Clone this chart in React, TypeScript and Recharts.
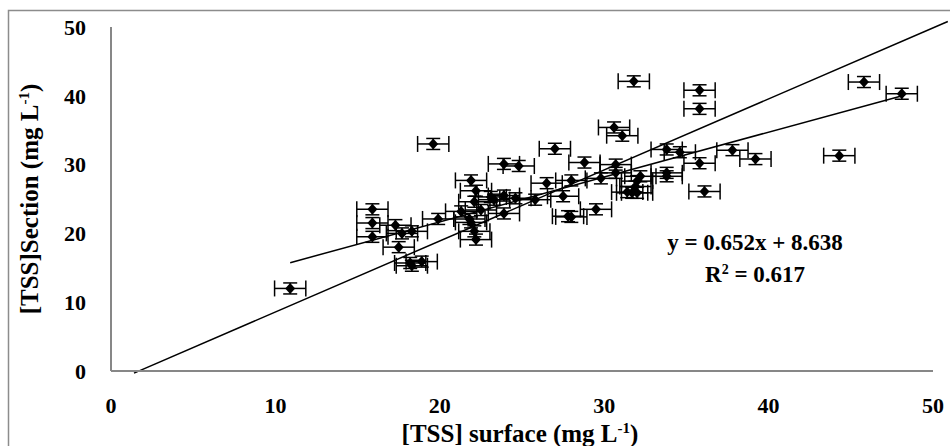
import React from 'react';
import {
  ScatterChart,
  Scatter,
  XAxis,
  YAxis,
  ErrorBar,
  ReferenceLine,
  Customized,
} from 'recharts';

// [TSS] surface (mg L-1)
const surfaceTSS = [
  10.9, 15.9, 15.9, 15.9, 17.3, 17.5, 17.7, 18.2, 18.3, 18.3, 18.9, 19.6, 19.9,
  21.3, 21.8, 21.9, 21.9, 22.1, 22.1, 22.2, 22.2, 22.5, 23.1, 23.3, 23.9, 23.9,
  23.9, 24.6, 24.8, 25.8, 26.5, 27.0, 27.5, 27.8, 28.0, 28.0, 28.8, 29.5, 29.8,
  30.6, 30.7, 30.7, 31.1, 31.4, 31.7, 31.8, 31.9, 32.0, 32.0, 32.2, 33.8, 33.8,
  33.8, 34.6, 35.8, 35.8, 35.8, 36.1, 37.8, 39.2, 44.3, 45.8, 48.1,
];

// [TSS] section (mg L-1)
const sectionTSS = [
  12.0, 23.5, 21.5, 19.5, 21.2, 18.0, 20.0, 15.7, 20.3, 15.3, 15.9, 33.0, 22.1,
  23.2, 22.1, 21.6, 27.7, 24.6, 20.3, 19.1, 26.2, 23.4, 25.3, 24.9, 25.5, 22.9,
  30.1, 25.1, 29.8, 24.9, 27.3, 32.3, 25.4, 22.5, 22.4, 27.7, 30.3, 23.5, 28.0,
  35.4, 30.0, 28.8, 34.2, 26.0, 25.9, 42.1, 26.8, 25.9, 27.6, 28.3, 32.2, 28.8,
  28.3, 31.8, 40.8, 38.1, 30.2, 26.1, 32.1, 30.8, 31.3, 42.0, 40.3,
];

const X_ERR = 0.95;
const Y_ERR = 0.8;

const axisTicks = [0, 10, 20, 30, 40, 50];

// linear fit shown on the chart
const slope = 0.652;
const intercept = 8.638;
const fitRange = [10.9, 48.3];

// second reference line (end points)
const refLineX = [1.4, 50.9];
const refLineY = [-0.3, 50.8];

const data = surfaceTSS.map((x, i) => ({
  x,
  y: sectionTSS[i],
  ex: X_ERR,
  ey: Y_ERR,
}));

const FONT = '"Liberation Serif", "Times New Roman", serif';

const Diamond = (props: any) => {
  const { cx, cy } = props;
  if (cx == null || cy == null) return null;
  return (
    <path
      d={`M${cx},${cy - 5.5} L${cx + 5},${cy} L${cx},${cy + 5.5} L${cx - 5},${cy} Z`}
      fill="#000"
    />
  );
};

const Overlay = () => (
  <g fontFamily={FONT} fontWeight="bold" fill="#000">
    <rect x={8.5} y={10.5} width={980} height={480} fill="none" stroke="#8c8c8c" strokeWidth={1.5} />
    <text x={755} y={250} fontSize={23} textAnchor="middle">
      y = 0.652x + 8.638
    </text>
    <text x={755} y={282} fontSize={23} textAnchor="middle">
      R<tspan fontSize={14} dy={-8}>2</tspan>
      <tspan dy={8}> = 0.617</tspan>
    </text>
    <text x={520} y={442} fontSize={25} textAnchor="middle">
      [TSS] surface (mg L<tspan fontSize={15} dy={-9}>-1</tspan>
      <tspan dy={9}>)</tspan>
    </text>
    <text x={38} y={199} fontSize={25} textAnchor="middle" transform="rotate(-90 38 199)">
      [TSS]Section (mg L<tspan fontSize={15} dy={-9}>-1</tspan>
      <tspan dy={9}>)</tspan>
    </text>
  </g>
);

const tickStyle = { fill: '#000', fontSize: 22, fontWeight: 'bold', fontFamily: FONT };

export default function App() {
  return (
    <div style={{ position: 'absolute', left: 0, top: 0, width: 950, height: 446, background: '#fff' }}>
      <ScatterChart width={950} height={446} margin={{ top: 27, right: 17, bottom: 15, left: 0 }}>
        <XAxis
          type="number"
          dataKey="x"
          domain={[0, 50]}
          ticks={axisTicks}
          height={60}
          tickLine={false}
          tickSize={6}
          tickMargin={20}
          axisLine={{ stroke: '#878787', strokeWidth: 2 }}
          tick={tickStyle}
        />
        <YAxis
          type="number"
          dataKey="y"
          domain={[0, 50]}
          ticks={axisTicks}
          width={111}
          tickLine={false}
          tickSize={6}
          tickMargin={19}
          axisLine={{ stroke: '#878787', strokeWidth: 2 }}
          tick={tickStyle}
        />
        <ReferenceLine
          segment={[
            { x: refLineX[0], y: refLineY[0] },
            { x: refLineX[1], y: refLineY[1] },
          ]}
          stroke="#000"
          strokeWidth={1.5}
          ifOverflow="visible"
        />
        <ReferenceLine
          segment={[
            { x: fitRange[0], y: slope * fitRange[0] + intercept },
            { x: fitRange[1], y: slope * fitRange[1] + intercept },
          ]}
          stroke="#000"
          strokeWidth={1.5}
          ifOverflow="visible"
        />
        <Scatter data={data} shape={<Diamond />} isAnimationActive={false}>
          <ErrorBar dataKey="ex" direction="x" width={8} stroke="#000" strokeWidth={1.5} />
          <ErrorBar dataKey="ey" direction="y" width={7} stroke="#000" strokeWidth={1.5} />
        </Scatter>
        <Customized component={Overlay} />
      </ScatterChart>
    </div>
  );
}
